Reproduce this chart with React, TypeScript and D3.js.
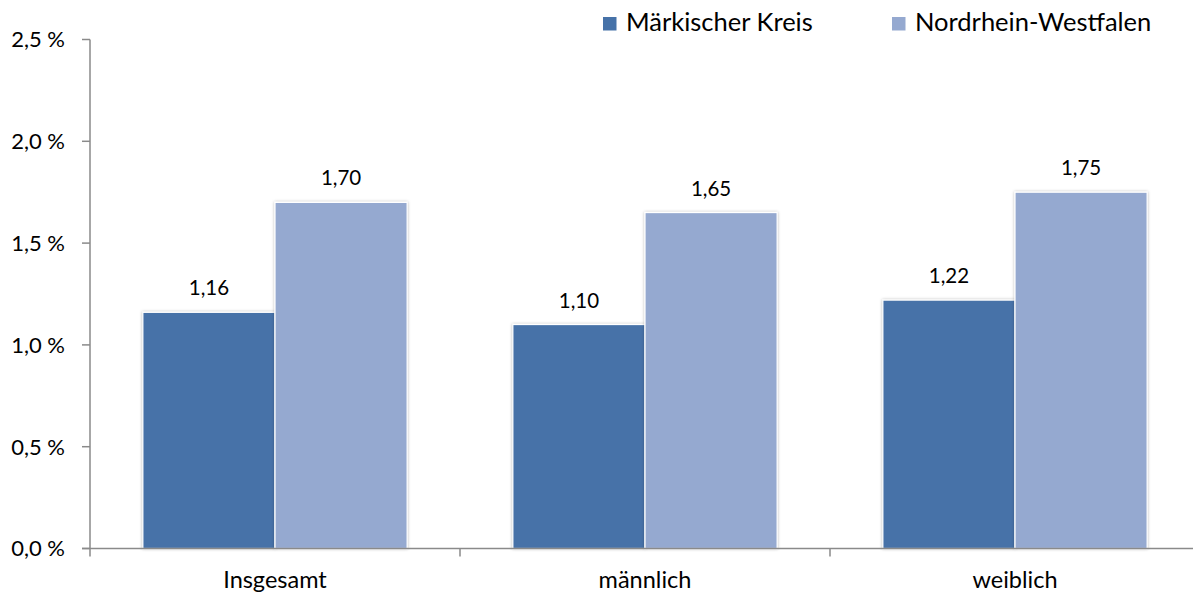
import { useEffect, useRef } from "react"
import * as d3 from "d3"

const CATEGORIES = ["Insgesamt", "männlich", "weiblich"]
const SERIES = ["Märkischer Kreis", "Nordrhein-Westfalen"]
const MK_VALUES = [1.16, 1.1, 1.22]
const NRW_VALUES = [1.7, 1.65, 1.75]
const Y_TICKS = [0, 0.5, 1.0, 1.5, 2.0, 2.5]

const COLORS = ["#4672a8", "#95a9d0"]
const AXIS = "#8a8a8a"
const FONT = "Lato, 'Open Sans', sans-serif"

const W = 1193
const H = 594
const M_L = 90
const X_END = 1200
const Y_TOP = 39.5
const Y_BOT = 548.5

const fmt = (v: number, d: number) => v.toFixed(d).replace(".", ",")

export default function App() {
  const svgRef = useRef<SVGSVGElement>(null)

  useEffect(() => {
    if (!svgRef.current) return
    const svg = d3.select(svgRef.current)
    svg.selectAll("*").remove()

    const defs = svg.append("defs")
    const f = defs
      .append("filter")
      .attr("id", "shadow")
      .attr("x", "-10%")
      .attr("y", "-10%")
      .attr("width", "120%")
      .attr("height", "120%")
    f.append("feDropShadow")
      .attr("dx", 0)
      .attr("dy", 0)
      .attr("stdDeviation", 1.6)
      .attr("flood-color", "#000")
      .attr("flood-opacity", 0.3)

    const x0 = d3.scaleBand<string>().domain(CATEGORIES).range([M_L, X_END]).paddingInner(0).paddingOuter(0)
    const x1 = d3
      .scaleBand<number>()
      .domain([0, 1])
      .range([0, x0.bandwidth()])
      .paddingOuter(0.4)
      .paddingInner(0)
    const y = d3.scaleLinear().domain([0, 2.5]).range([Y_BOT, Y_TOP])

    // Y axis
    svg
      .append("line")
      .attr("x1", M_L)
      .attr("x2", M_L)
      .attr("y1", y(2.5))
      .attr("y2", y(0) + 8)
      .attr("stroke", AXIS)
      .attr("stroke-width", 1.5)

    Y_TICKS.forEach((t) => {
      svg
        .append("line")
        .attr("x1", M_L - 8)
        .attr("x2", M_L)
        .attr("y1", y(t))
        .attr("y2", y(t))
        .attr("stroke", AXIS)
        .attr("stroke-width", 1.5)
      svg
        .append("text")
        .attr("x", 65)
        .attr("y", y(t))
        .attr("dy", "0.36em")
        .attr("text-anchor", "end")
        .attr("font-family", FONT)
        .attr("font-size", 22)
        .attr("fill", "#000")
        .text(`${fmt(t, 1)} %`)
    })

    const series = [MK_VALUES, NRW_VALUES]

    // Bars
    CATEGORIES.forEach((cat, ci) => {
      series.forEach((vals, si) => {
        const bx = x0(cat)! + x1(si)!
        const bw = x1.bandwidth()
        svg
          .append("rect")
          .attr("x", bx)
          .attr("y", y(vals[ci]))
          .attr("width", bw)
          .attr("height", y(0) - y(vals[ci]))
          .attr("fill", COLORS[si])
          .attr("stroke", "#fff")
          .attr("stroke-width", 1.2)
          .attr("filter", "url(#shadow)")
        svg
          .append("text")
          .attr("x", bx + bw / 2)
          .attr("y", y(vals[ci]) - 17)
          .attr("text-anchor", "middle")
          .attr("font-family", FONT)
          .attr("font-size", 20.5)
          .attr("fill", "#000")
          .text(fmt(vals[ci], 2))
      })
    })

    // X axis
    svg
      .append("line")
      .attr("x1", M_L - 8)
      .attr("x2", X_END)
      .attr("y1", y(0))
      .attr("y2", y(0))
      .attr("stroke", AXIS)
      .attr("stroke-width", 1.5)

    CATEGORIES.forEach((cat) => {
      const xs = x0(cat)!
      if (xs > M_L) {
        svg
          .append("line")
          .attr("x1", xs)
          .attr("x2", xs)
          .attr("y1", y(0))
          .attr("y2", y(0) + 8)
          .attr("stroke", AXIS)
          .attr("stroke-width", 1.5)
      }
      svg
        .append("text")
        .attr("x", xs + x0.bandwidth() / 2)
        .attr("y", 588)
        .attr("text-anchor", "middle")
        .attr("font-family", FONT)
        .attr("font-size", 23.5)
        .attr("fill", "#000")
        .text(cat)
    })

    // Legend
    const LEG_X = [603, 892]
    SERIES.forEach((name, i) => {
      svg
        .append("rect")
        .attr("x", LEG_X[i])
        .attr("y", 17)
        .attr("width", 13.5)
        .attr("height", 13.5)
        .attr("fill", COLORS[i])
      svg
        .append("text")
        .attr("x", LEG_X[i] + 23)
        .attr("y", 31)
        .attr("font-family", FONT)
        .attr("font-size", 25.5)
        .attr("fill", "#000")
        .text(name)
    })
  }, [])

  return (
    <svg
      ref={svgRef}
      width={W}
      height={H}
      style={{ position: "absolute", left: 0, top: 0, background: "#fff" }}
    />
  )
}
